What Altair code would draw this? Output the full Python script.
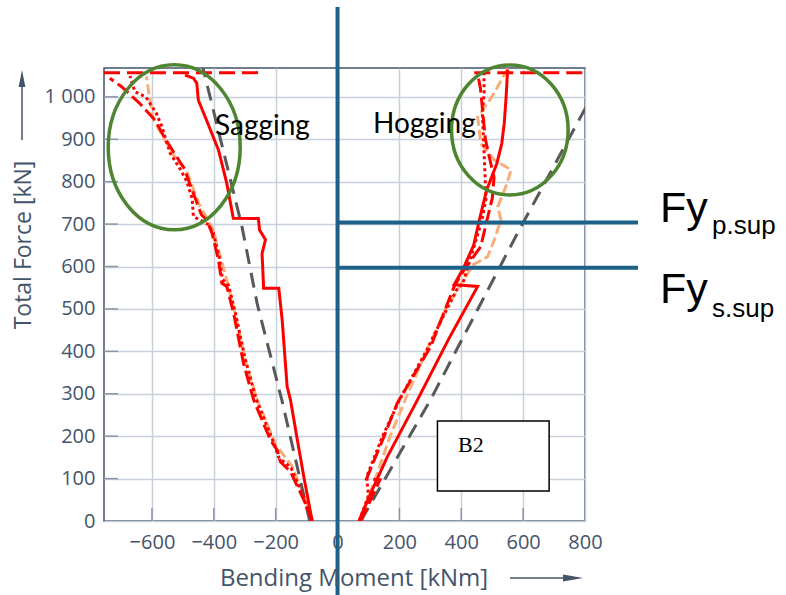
import altair as alt
import pandas as pd

# ---------------- load-path data: bending moment [kNm] vs total force [kN] ----------------
# Sagging side (negative moments)
sag_solid_m = [-82, -108, -132, -152, -163, -179, -190, -239, -244, -233, -252, -256, -337, -358, -385, -428, -450, -455, -466, -493]
sag_solid_f = [0, 100, 200, 285, 317, 474, 549, 549, 631, 663, 686, 713, 714, 796, 875, 953, 992, 1032, 1044, 1051]

sag_dash_m = [-82, -109, -152, -185, -195, -217, -271, -304, -336, -358, -374, -385, -406, -423, -440, -475, -495, -530, -560, -590, -640, -700, -736]
sag_dash_f = [0, 50, 116, 140, 167, 191, 285, 372, 490, 553, 561, 616, 679, 710, 722, 790, 830, 870, 905, 945, 985, 1025, 1044]

sag_dot_m = [-84, -112, -150, -190, -212, -262, -298, -330, -352, -372, -382, -402, -420, -466, -470, -487, -509, -541, -568, -585, -620, -655, -671]
sag_dot_f = [0, 60, 125, 150, 195, 285, 380, 490, 555, 570, 620, 680, 700, 718, 760, 800, 830, 867, 930, 960, 1000, 1012, 1049]

sag_orange_m = [-80, -108, -148, -200, -262, -300, -333, -355, -380, -402, -420, -444, -470, -490, -520, -560, -595, -608, -618]
sag_orange_f = [0, 60, 130, 180, 290, 385, 495, 560, 625, 685, 712, 741, 790, 830, 851, 900, 946, 1000, 1048]

sag_gray_m = [-90, -180, -260, -309, -435]
sag_gray_f = [0, 285, 513, 694, 1068]

# Hogging side (positive moments)
hog_solid_m = [69, 110, 160, 258, 360, 453, 377, 407, 440, 460, 482, 515, 531, 539, 545, 548, 550]
hog_solid_f = [0, 70, 150, 285, 430, 553, 557, 596, 650, 714, 780, 843, 890, 938, 1000, 1040, 1064]

hog_dash_m = [75, 137, 94, 150, 193, 301, 377, 409, 463, 480, 500, 506, 490, 478, 470, 462, 452]
hog_dash_f = [0, 97, 100, 199, 278, 411, 553, 592, 647, 700, 760, 810, 860, 900, 960, 1020, 1057]

hog_dot_m = [70, 100, 94, 145, 200, 290, 340, 385, 405, 430, 455, 468, 480, 476, 472, 468, 474, 473]
hog_dot_f = [0, 60, 104, 199, 285, 405, 480, 545, 560, 620, 680, 714, 760, 830, 900, 960, 1010, 1057]

hog_orange_m = [72, 120, 170, 230, 290, 350, 400, 440, 485, 507, 528, 518, 545, 561, 507, 463, 453, 490, 512, 550]
hog_orange_f = [0, 95, 200, 305, 405, 500, 560, 605, 623, 663, 710, 741, 790, 828, 851, 890, 953, 990, 1016, 1067]

hog_gray_m = [75, 300, 582, 804]
hog_gray_f = [0, 285, 679, 977]

# Maximum-load level (dashed, both sides)
cap_f = 1057
sag_cap_m = [-755, -240]
hog_cap_m = [442, 800]

# Support yield levels
fy_p_sup = 704
fy_s_sup = 597

# Axis ticks
x_ticks = [-600, -400, -200, 0, 200, 400, 600, 800]
y_ticks = [0, 100, 200, 300, 400, 500, 600, 700, 800, 900, 1000]

# ---------------- layout ----------------
W, H = 481, 453
X_DOM = [-755, 800]
Y_DOM = [0, 1068]
AXIS_COL = "#44546a"
GRID_COL = "#c8d0dc"
RED = "#ff0000"
ORANGE = "#f7ae78"
GRAY = "#595959"
GREEN = "#4e8531"
BLUE = "#1d6088"


def path_df(m, f):
    return pd.DataFrame({"m": m, "f": f, "i": list(range(len(m)))})


xs = alt.Scale(domain=X_DOM, nice=False, zero=False)
ys = alt.Scale(domain=Y_DOM, nice=False, zero=False)


def X():
    return alt.X("m:Q", scale=xs, title=None,
                 axis=alt.Axis(values=x_ticks, labelFlush=False))


def Y():
    return alt.Y("f:Q", scale=ys, title=None,
                 axis=alt.Axis(values=y_ticks,
                               labelExpr="replace(format(datum.value, ','), ',', ' ')"))


def series(m, f, color, width, dash=None):
    kw = dict(color=color, strokeWidth=width, clip=True, strokeCap="butt")
    if dash:
        kw["strokeDash"] = dash
    return alt.Chart(path_df(m, f)).mark_line(**kw).encode(
        x=X(), y=Y(), order=alt.Order("i:Q"))


# inward tick marks
xtick_layer = alt.Chart(pd.DataFrame({"m": x_ticks[:-1]})).mark_rule(
    color="#8a95a6", strokeWidth=1.5).encode(
    x=X(), y=alt.value(H), y2=alt.value(H - 13))
ytick_layer = alt.Chart(pd.DataFrame({"f": y_ticks[1:]})).mark_rule(
    color="#8a95a6", strokeWidth=1.5).encode(
    y=Y(), x=alt.value(0), x2=alt.value(14))

lines = [
    series(sag_orange_m, sag_orange_f, ORANGE, 3, [10, 4]),
    series(hog_orange_m, hog_orange_f, ORANGE, 3, [10, 4]),
    series(sag_gray_m, sag_gray_f, GRAY, 3, [15, 9]),
    series(hog_gray_m, hog_gray_f, GRAY, 3, [15, 9]),
    series(sag_dot_m, sag_dot_f, RED, 3, [3, 3]),
    series(hog_dot_m, hog_dot_f, RED, 3, [3, 3]),
    series(sag_dash_m, sag_dash_f, RED, 3, [14, 5]),
    series(hog_dash_m, hog_dash_f, RED, 3, [14, 5]),
    series(sag_solid_m, sag_solid_f, RED, 3),
    series(hog_solid_m, hog_solid_f, RED, 3),
    series(sag_cap_m, [cap_f, cap_f], RED, 3, [16, 7]),
    series(hog_cap_m, [cap_f, cap_f], RED, 3, [16, 7]),
]

anno = alt.Chart(pd.DataFrame({"a": [0]}))

# zero-moment divider and support yield levels
v_line = anno.mark_rule(color=BLUE, strokeWidth=4).encode(
    x=alt.datum(0), y=alt.value(-61), y2=alt.value(527))
h_p = anno.mark_rule(color=BLUE, strokeWidth=4).encode(
    x=alt.datum(0), x2=alt.value(534), y=alt.datum(fy_p_sup))
h_s = anno.mark_rule(color=BLUE, strokeWidth=4).encode(
    x=alt.datum(0), x2=alt.value(534), y=alt.datum(fy_s_sup))


def txt(text, x, y, size, font, color="black", align="left", angle=0):
    kw = dict(text=text, fontSize=size, font=font, color=color, align=align,
              baseline="alphabetic")
    if angle:
        kw["angle"] = angle
    return anno.mark_text(**kw).encode(x=alt.value(x), y=alt.value(y))


fy_labels = [
    txt("Fy", 556, 154, 43, "Liberation Sans"),
    txt("p.sup", 608, 166, 26, "Liberation Sans"),
    txt("Fy", 556, 235, 43, "Liberation Sans"),
    txt("s.sup", 608, 249, 26, "Liberation Sans"),
]

region_labels = [
    txt("Sagging", 111, 67, 28, "Lato"),
    txt("Hogging", 269, 65, 28, "Lato"),
]

# highlighted regions
ell_left = anno.mark_point(
    shape="M -0.8 0 A 0.8 1 0 1 1 0.8 0 A 0.8 1 0 1 1 -0.8 0 Z",
    size=165 ** 2, filled=False, color=GREEN, strokeWidth=3.5, opacity=1).encode(
    x=alt.datum(-528), y=alt.datum(881))
ell_right = anno.mark_point(
    shape="M -0.897 0 A 0.897 1 0 1 1 0.897 0 A 0.897 1 0 1 1 -0.897 0 Z",
    size=130 ** 2, filled=False, color=GREEN, strokeWidth=3.5, opacity=1).encode(
    x=alt.datum(557), y=alt.datum(922))

# specimen label box
box = anno.mark_rect(fill="white", stroke="black", strokeWidth=1.5).encode(
    x=alt.datum(323), x2=alt.datum(684), y=alt.datum(236), y2=alt.datum(71))
box_text = txt("B2", 354, 384, 22, "Liberation Serif")

# axis titles with direction arrows
x_title = txt("Bending Moment [kNm]", 250, 518, 24, "Open Sans", AXIS_COL, "center")
x_arrow = anno.mark_rule(color=AXIS_COL, strokeWidth=1.5).encode(
    x=alt.value(406), x2=alt.value(465), y=alt.value(510))
x_head = anno.mark_point(shape="M 1 0 L -1 0.35 L -1 -0.35 Z", size=400, filled=True,
                         color=AXIS_COL, opacity=1).encode(
    x=alt.value(469), y=alt.value(510))

y_title = txt("Total Force [kN]", -73, 177, 23, "Open Sans", AXIS_COL, "center", angle=270)
y_arrow = anno.mark_rule(color=AXIS_COL, strokeWidth=1.5).encode(
    x=alt.value(-82), y=alt.value(72), y2=alt.value(16))
y_head = anno.mark_point(shape="M 0 -1 L 0.4 1 L -0.4 1 Z", size=289, filled=True,
                         color=AXIS_COL, opacity=1).encode(
    x=alt.value(-82), y=alt.value(10.5))

chart = alt.layer(
    xtick_layer, ytick_layer, box, box_text,
    *lines,
    v_line, h_p, h_s,
    ell_left, ell_right,
    *region_labels, *fy_labels,
    x_title, x_arrow, x_head, y_title, y_arrow, y_head,
).properties(
    width=W, height=H, autosize="none",
    padding={"left": 104, "top": 68, "right": 201, "bottom": 74},
).configure_view(
    stroke=AXIS_COL, strokeWidth=1.5,
).configure_axis(
    grid=True, gridColor=GRID_COL, gridWidth=1.5,
    domain=False, ticks=False,
    labelFont="Open Sans", labelFontSize=20, labelColor=AXIS_COL,
).configure_axisX(
    labelPadding=11,
).configure_axisY(
    labelPadding=9,
)

chart.save("out.html", embed_options={"renderer": "svg", "actions": False})
